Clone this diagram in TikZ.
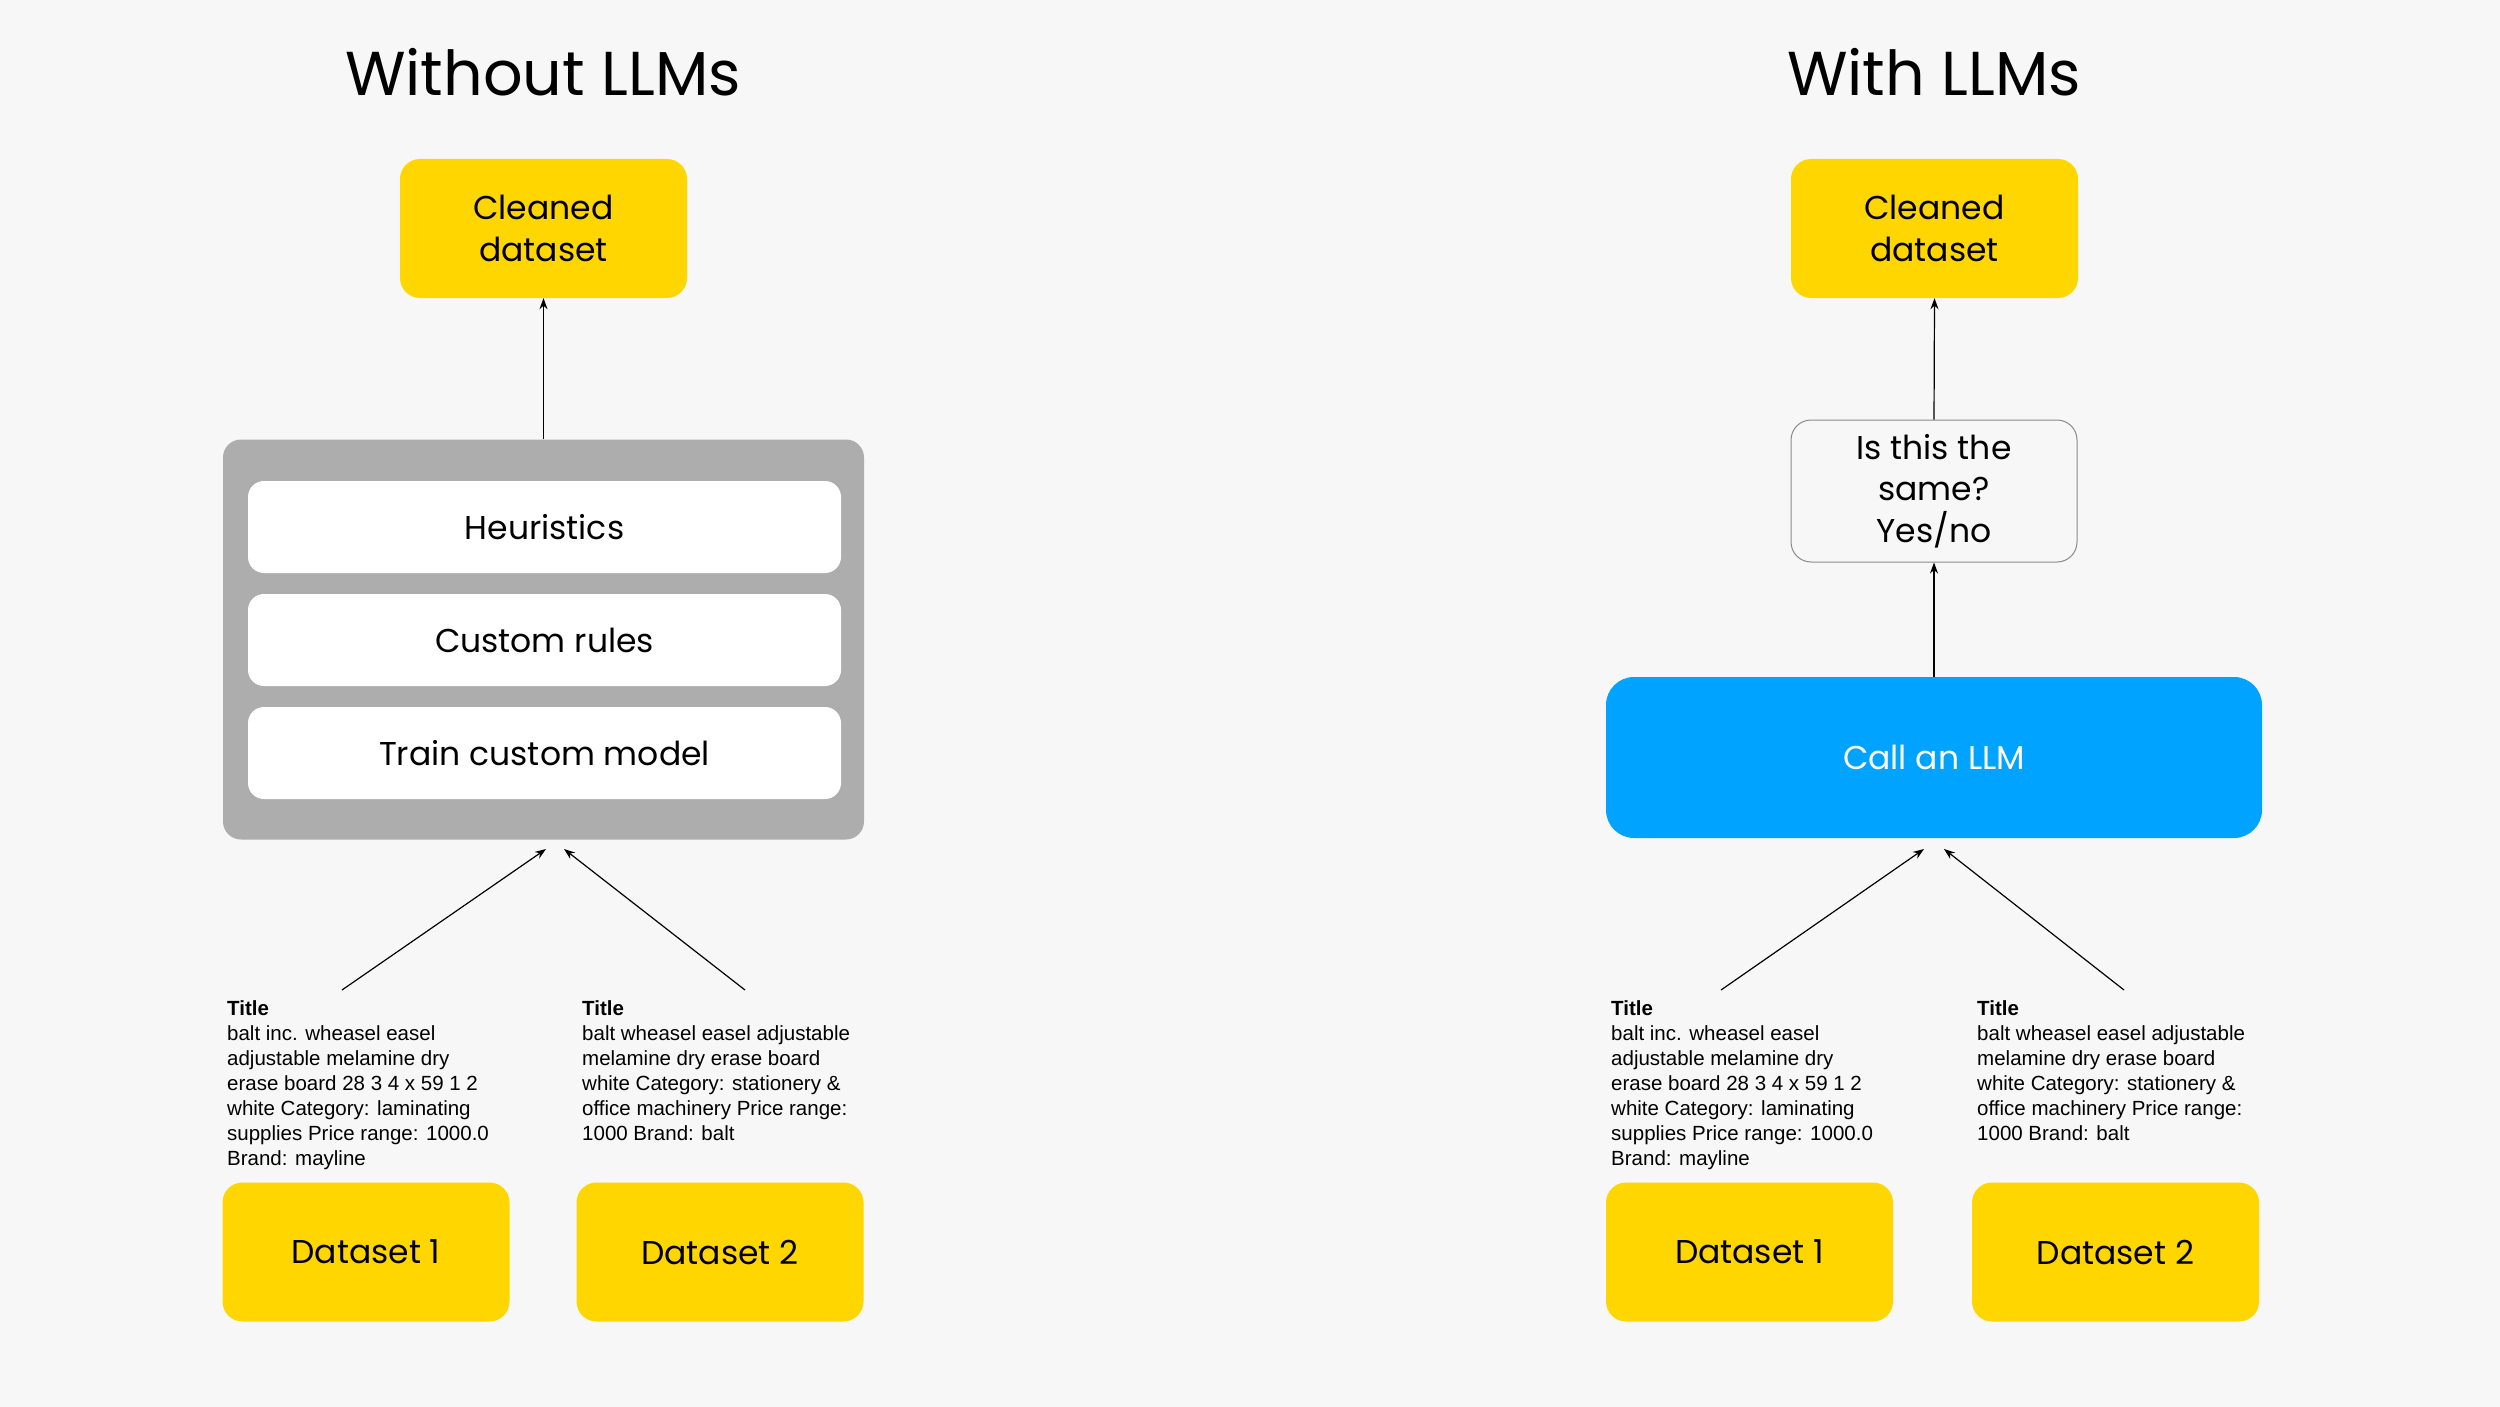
\documentclass[tikz,border=0pt]{standalone}
\usepackage{fontspec}
\setmainfont{Poppins}
\newfontfamily\smallsans{Liberation Sans}
\usetikzlibrary{arrows.meta}
\definecolor{bgc}{HTML}{F7F7F7}
\definecolor{yel}{HTML}{FFD600}
\definecolor{grayc}{HTML}{ADADAD}
\definecolor{bluec}{HTML}{00A3FF}
\definecolor{edgec}{HTML}{8A8A8A}
\begin{document}
\begin{tikzpicture}[x=1pt,y=-1pt,
  boxfont/.style={font=\fontsize{33}{41.5}\selectfont},
  yelbox/.style={boxfont, fill=yel, rounded corners=20pt, minimum width=287pt, minimum height=139pt, inner sep=0pt, align=center},
  innerbox/.style={boxfont, fill=white, rounded corners=16pt, minimum width=593pt, minimum height=92pt, inner sep=0pt},
  qbox/.style={boxfont, draw=edgec, line width=1pt, fill=bgc, rounded corners=20pt, minimum width=286pt, minimum height=142pt, inner sep=0pt, align=center},
  llmbox/.style={boxfont, fill=bluec, text=white, rounded corners=28pt, minimum width=656pt, minimum height=161pt, inner sep=0pt},
  graybox/.style={fill=grayc, rounded corners=18pt, minimum width=641pt, minimum height=400pt, inner sep=0pt},
  desc/.style={font=\smallsans\fontsize{20.5}{25}\selectfont, align=left, anchor=north west, inner sep=0pt},
  titlefont/.style={font=\fontsize{62}{70}\selectfont, anchor=base, inner sep=0pt},
  arr/.style={draw=black, line width=1.2pt, -{Stealth[length=11pt,width=8pt]}}
]
\fill[bgc] (0,0) rectangle (2500,1407);
\useasboundingbox (0,0) rectangle (2500,1407);

% titles
\node[titlefont] (t1) at (543,96) {Without LLMs};
\node[titlefont] (t2) at (1934,96) {With LLMs};

% left side
\node[yelbox] (cl1) at (543.5,228.5) {Cleaned\\dataset};
\node[graybox] (gb) at (543.5,639.5) {};
\node[innerbox] (h) at (544.5,527) {Heuristics};
\node[innerbox] (cr) at (544.5,640) {Custom rules};
\node[innerbox] (tm) at (544.5,753) {Train custom model};
\node[yelbox] (d1l) at (366,1252) {Dataset 1};
\node[yelbox] (d2l) at (720,1252) {Dataset 2};

\node[desc] (txl1) at (227,1000) {\textbf{Title}\\balt inc. wheasel easel\\adjustable melamine dry\\erase board 28 3 4 x 59 1 2\\white Category: laminating\\supplies Price range: 1000.0\\Brand: mayline};
\node[desc] (txl2) at (582,1000) {\textbf{Title}\\balt wheasel easel adjustable\\melamine dry erase board\\white Category: stationery \&\\office machinery Price range:\\1000 Brand: balt};

\draw[arr] (gb.north) -- (cl1.south);
\coordinate (al1s) at (342,990);
\coordinate (al1e) at (546,849);
\coordinate (al2s) at (745,990);
\coordinate (al2e) at (564,849);
\draw[arr] (al1s) -- (al1e);
\draw[arr] (al2s) -- (al2e);

% right side
\node[yelbox] (cl2) at (1934.5,228.5) {Cleaned\\dataset};
\node[qbox] (q) at (1934,491) {Is this the\\same?\\Yes/no};
\node[llmbox] (llm) at (1934,757.5) {Call an LLM};
\node[yelbox] (d1r) at (1749.5,1252) {Dataset 1};
\node[yelbox] (d2r) at (2115.5,1252) {Dataset 2};

\node[desc] (txr1) at (1611,1000) {\textbf{Title}\\balt inc. wheasel easel\\adjustable melamine dry\\erase board 28 3 4 x 59 1 2\\white Category: laminating\\supplies Price range: 1000.0\\Brand: mayline};
\node[desc] (txr2) at (1977,1000) {\textbf{Title}\\balt wheasel easel adjustable\\melamine dry erase board\\white Category: stationery \&\\office machinery Price range:\\1000 Brand: balt};

\draw[arr] (llm.north) -- (q.south);
\draw[arr] (q.north) -- (cl2.south);
\coordinate (ar1s) at (1721,990);
\coordinate (ar1e) at (1924,849);
\coordinate (ar2s) at (2124,990);
\coordinate (ar2e) at (1944,849);
\draw[arr] (ar1s) -- (ar1e);
\draw[arr] (ar2s) -- (ar2e);
\end{tikzpicture}
\end{document}
